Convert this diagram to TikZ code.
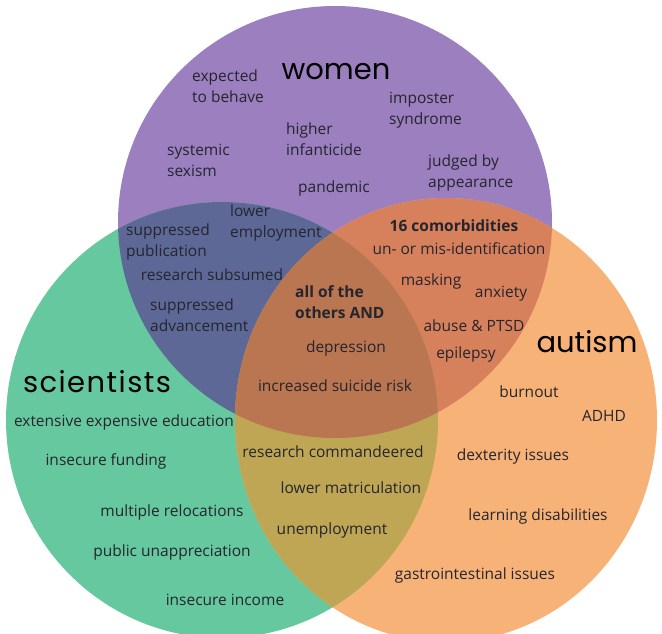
\documentclass[tikz,border=0pt]{standalone}
\usepackage{fontspec}
\setmainfont{Open Sans}
\newfontfamily\headface{Poppins}
\newfontfamily\headwide{Poppins}[LetterSpace=5]
\definecolor{cP}{HTML}{9B7FBE}
\definecolor{cG}{HTML}{66C89E}
\definecolor{cO}{HTML}{F7B278}
\definecolor{cPG}{HTML}{5E6896}
\definecolor{cPO}{HTML}{D7805C}
\definecolor{cGO}{HTML}{BEA654}
\definecolor{cPGO}{HTML}{B97650}
\definecolor{ink}{HTML}{25252E}
\begin{document}
\begin{tikzpicture}[x=1pt,y=-1pt,
  lbl/.style={inner sep=0pt, text=ink, font=\fontsize{15.5}{21}\selectfont},
  lblL/.style={lbl, align=left, anchor=west},
  bold/.style={lbl, font=\fontsize{15.5}{21}\selectfont\bfseries},
  head/.style={inner sep=0pt, text=black, font=\fontsize{29}{30}\headface}]
\useasboundingbox (0,0) rectangle (662,633);
\fill[white] (0,0) rectangle (662,633);
% three sets
\fill[cP] (335,222) ellipse [x radius=217pt, y radius=216pt];
\fill[cG] (222,420) ellipse [x radius=216pt, y radius=218pt];
\fill[cO] (446,420) ellipse [x radius=211pt, y radius=222pt];
% pairwise overlaps
\begin{scope}
  \clip (335,222) ellipse [x radius=217pt, y radius=216pt];
  \fill[cPG] (222,420) ellipse [x radius=216pt, y radius=218pt];
  \fill[cPO] (446,420) ellipse [x radius=211pt, y radius=222pt];
\end{scope}
\begin{scope}
  \clip (222,420) ellipse [x radius=216pt, y radius=218pt];
  \fill[cGO] (446,420) ellipse [x radius=211pt, y radius=222pt];
  \clip (446,420) ellipse [x radius=211pt, y radius=222pt];
  \fill[cPGO] (335,222) ellipse [x radius=217pt, y radius=216pt];
\end{scope}
% set titles
\node[head] (women) at (336,72) {women};
\node[head, font=\fontsize{29}{30}\headwide] (scientists) at (97,382) {scientists};
\node[head] (autism) at (587,342) {autism};
% women only
\node[lblL] (expected) at (192,86) {expected\\to behave};
\node[lblL] (imposter) at (389,110) {imposter\\syndrome};
\node[lblL] (higher) at (286,139) {higher\\infanticide};
\node[lblL] (systemic) at (167,160) {systemic\\sexism};
\node[lblL] (judged) at (428,173) {judged by\\appearance};
\node[lbl] (pandemic) at (334,188) {pandemic};
% women and scientists
\node[lblL] (loweremp) at (230,223) {lower\\employment};
\node[lblL] (suppub) at (126,242) {suppressed\\publication};
\node[lbl] (subsumed) at (212,275) {research subsumed};
\node[lblL] (supadv) at (150,315) {suppressed\\advancement};
% women and autism
\node[bold] (comorb) at (454,226) {16 comorbidities};
\node[lbl] (misid) at (459,249) {un- or mis-identification};
\node[lbl] (masking) at (431,281) {masking};
\node[lbl] (anxiety) at (501,294) {anxiety};
\node[lbl] (abuse) at (474,326) {abuse \& PTSD};
\node[lbl] (epilepsy) at (466,354) {epilepsy};
% all three
\node[bold, align=left, anchor=west] (allothers) at (295,302) {all of the\\others AND};
\node[lbl] (depression) at (346,348) {depression};
\node[lbl] (suicide) at (335,386) {increased suicide risk};
% scientists only
\node[lbl] (education) at (124,422) {extensive expensive education};
\node[lbl] (funding) at (106,461) {insecure funding};
\node[lbl] (relocations) at (172,512) {multiple relocations};
\node[lbl] (unapprec) at (172,552) {public unappreciation};
\node[lbl] (income) at (225,600) {insecure income};
% scientists and autism
\node[lbl] (commandeered) at (333,452) {research commandeered};
\node[lbl] (matric) at (351,488) {lower matriculation};
\node[lbl] (unemp) at (332,530) {unemployment};
% autism only
\node[lbl] (burnout) at (529,392) {burnout};
\node[lbl] (adhd) at (604,416) {ADHD};
\node[lbl] (dexterity) at (513,456) {dexterity issues};
\node[lbl] (learning) at (538,516) {learning disabilities};
\node[lbl] (gastro) at (475,575) {gastrointestinal issues};
\end{tikzpicture}
\end{document}
